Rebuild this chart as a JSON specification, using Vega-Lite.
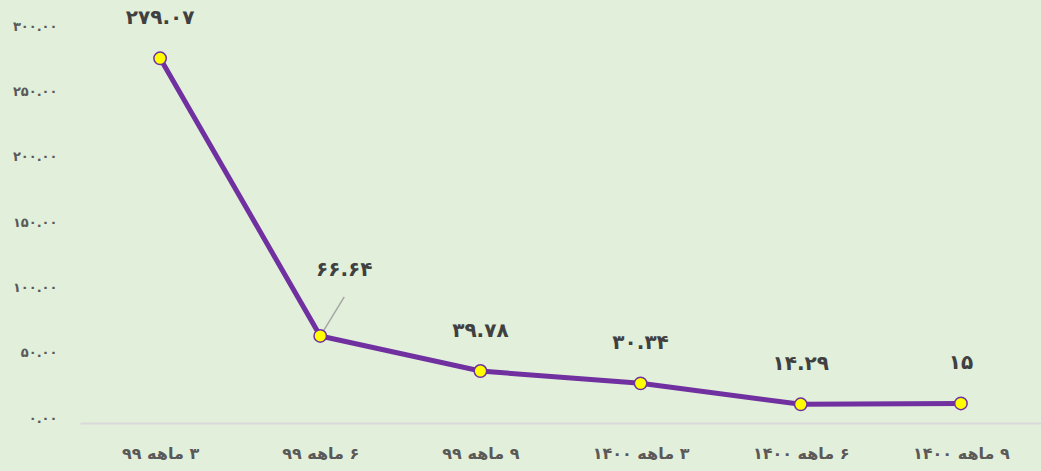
{
  "$schema": "https://vega.github.io/schema/vega-lite/v6.json",
  "autosize": {"type": "none"},
  "width": 961,
  "height": 392,
  "padding": {"left": 80, "top": 31, "right": 0, "bottom": 48},
  "background": "#E2EFDA",
  "config": {"view": {"stroke": null}, "font": "DejaVu Sans"},
  "data": {
    "values": [
      {"period": "\u200f۳ ماهه ۹۹", "value": 279.07, "label": "۲۷۹.۰۷"},
      {"period": "\u200f۶ ماهه ۹۹", "value": 66.64, "label": "۶۶.۶۴"},
      {"period": "\u200f۹ ماهه ۹۹", "value": 39.78, "label": "۳۹.۷۸"},
      {"period": "\u200f۳ ماهه ۱۴۰۰", "value": 30.34, "label": "۳۰.۳۴"},
      {"period": "\u200f۶ ماهه ۱۴۰۰", "value": 14.29, "label": "۱۴.۲۹"},
      {"period": "\u200f۹ ماهه ۱۴۰۰", "value": 15, "label": "۱۵"}
    ]
  },
  "encoding": {
    "x": {
      "field": "period",
      "type": "nominal",
      "sort": null,
      "scale": {"type": "point", "padding": 0.5},
      "axis": {
        "title": null,
        "labelAngle": 0,
        "ticks": false,
        "domainColor": "#D9D9D9",
        "domainWidth": 2,
        "labelFont": "DejaVu Sans",
        "labelFontWeight": "bold",
        "labelFontSize": 16,
        "labelColor": "#595959",
        "labelPadding": 22
      }
    },
    "y": {
      "field": "value",
      "type": "quantitative",
      "scale": {"domain": [0, 300], "nice": false},
      "axis": {
        "title": null,
        "values": [0, 50, 100, 150, 200, 250, 300],
        "domain": false,
        "ticks": false,
        "grid": false,
        "labelFont": "DejaVu Sans",
        "labelFontWeight": "bold",
        "labelFontSize": 13,
        "labelColor": "#595959",
        "labelPadding": 23,
        "labelBaseline": "middle",
        "labelOffset": -5,
        "labelExpr": "datum.value == 300 ? '۳۰۰.۰۰' : datum.value == 250 ? '۲۵۰.۰۰' : datum.value == 200 ? '۲۰۰.۰۰' : datum.value == 150 ? '۱۵۰.۰۰' : datum.value == 100 ? '۱۰۰.۰۰' : datum.value == 50 ? '۵۰.۰۰' : '۰.۰۰'"
      }
    }
  },
  "layer": [
    {
      "mark": {"type": "line", "color": "#7030A0", "strokeWidth": 5}
    },
    {
      "transform": [{"filter": "datum.value == 66.64"}],
      "mark": {"type": "rule", "color": "#A6A6A6", "strokeWidth": 1.5, "xOffset": 2, "yOffset": -3, "x2Offset": 24, "y2Offset": -39},
      "encoding": {
        "x2": {"field": "period"},
        "y2": {"field": "value"}
      }
    },
    {
      "mark": {"type": "point", "filled": true, "fill": "#FFFF00", "stroke": "#7030A0", "strokeWidth": 1.5, "size": 155, "opacity": 1}
    },
    {
      "transform": [{"filter": "datum.value != 66.64"}],
      "mark": {"type": "text", "dy": -40, "fontSize": 20, "fontWeight": "bold", "color": "#404040", "font": "DejaVu Sans"},
      "encoding": {"text": {"field": "label"}}
    },
    {
      "transform": [{"filter": "datum.value == 66.64"}],
      "mark": {"type": "text", "dx": 24, "dy": -66, "fontSize": 20, "fontWeight": "bold", "color": "#404040", "font": "DejaVu Sans"},
      "encoding": {"text": {"field": "label"}}
    }
  ]
}
